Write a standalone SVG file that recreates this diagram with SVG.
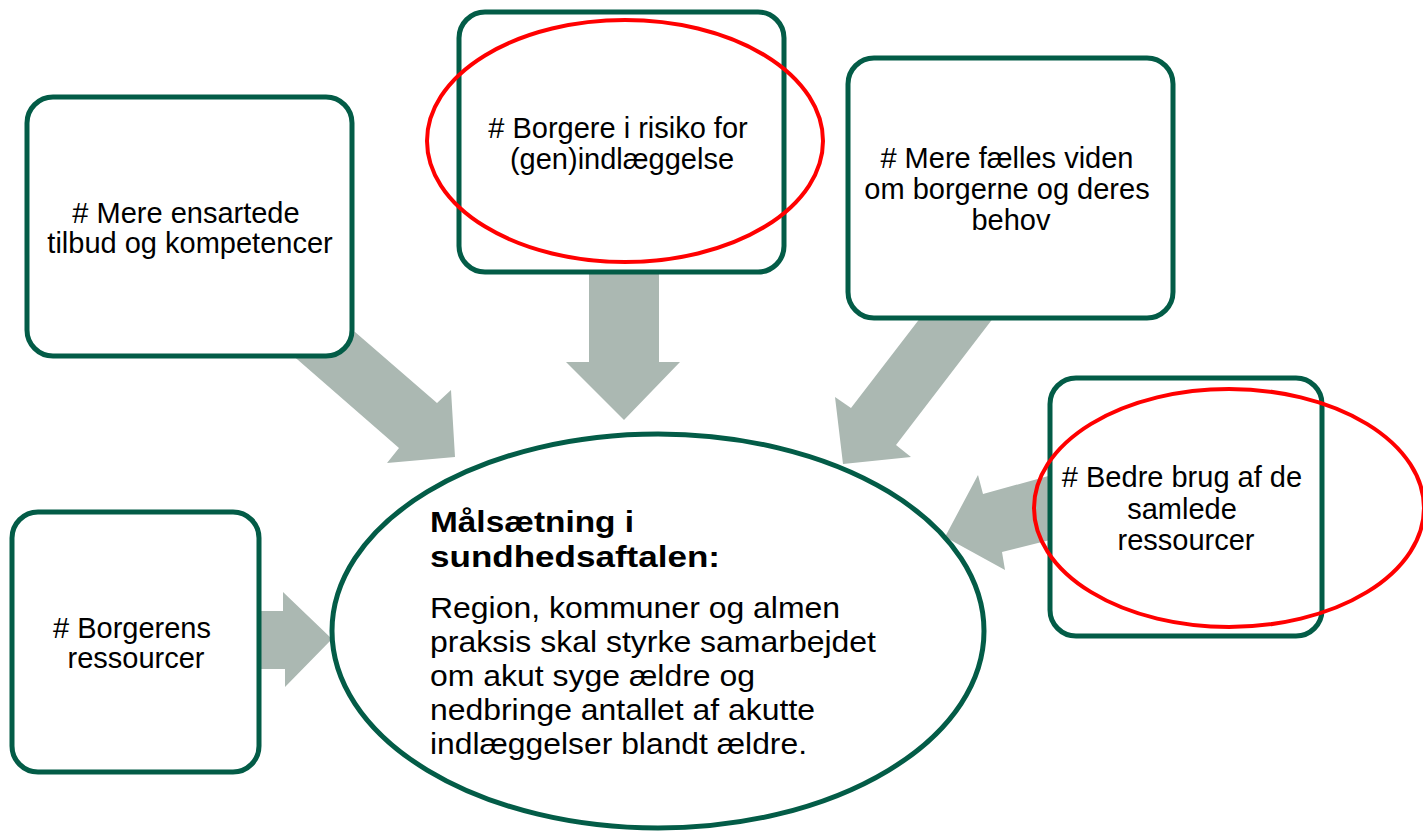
<svg xmlns="http://www.w3.org/2000/svg" width="1423" height="832" viewBox="0 0 1423 832">
<style>
.arrow{fill:#abb8b2;stroke:none}
.box{fill:#fff;stroke:#035c47;stroke-width:5}
.main{fill:#fff;stroke:#035c47;stroke-width:5}
.hl{fill:none;stroke:#ff0000;stroke-width:4}
.t{font-family:"Liberation Sans",Arial,sans-serif;font-size:29px;fill:#000;text-anchor:middle}
.m{font-family:"Liberation Sans",Arial,sans-serif;font-size:29px;fill:#000}
.mb{font-weight:bold}
</style>
<rect width="1423" height="832" fill="#fff"/>
<g id="connectors">
<polygon class="arrow" points="290,353 340,319 437,403 451,390 455,457 387,463 399,448"/>
<polygon class="arrow" points="589,260 659,260 659,362 680,362 624,420 566,362 589,362"/>
<polygon class="arrow" points="934,300 1007,300 896,445 911,457 843,464 835,397 851,408"/>
<polygon class="arrow" points="1070,470 1070,535 1002,552 1005,570 945,537 978,475 983,494"/>
<polygon class="arrow" points="240,611 283,611 283,592 332,639 285,687 285,669 240,669"/>
</g>
<g id="node-ensartede">
<rect class="box" x="27" y="97" width="325" height="259" rx="26"/>
<text class="t" x="190" y="223">
<tspan x="190" y="223"># Mere ensartede</tspan>
<tspan x="190" y="253">tilbud og kompetencer</tspan>
</text>
</g>
<g id="node-risiko">
<rect class="box" x="459" y="12" width="325" height="260" rx="26"/>
<text class="t" x="622" y="138">
<tspan x="622" y="138"># Borgere i risiko for</tspan>
<tspan x="622" y="169">(gen)indlæggelse</tspan>
</text>
</g>
<g id="node-viden">
<rect class="box" x="848" y="58" width="325" height="260" rx="26"/>
<text class="t" x="1011" y="168">
<tspan x="1011" y="168"># Mere fælles viden</tspan>
<tspan x="1011" y="199">om borgerne og deres</tspan>
<tspan x="1011" y="230">behov</tspan>
</text>
</g>
<g id="node-ressourcer-samlede">
<rect class="box" x="1050" y="378" width="272" height="258" rx="26"/>
<text class="t" x="1186" y="487">
<tspan x="1186" y="487"># Bedre brug af de</tspan>
<tspan x="1186" y="519">samlede</tspan>
<tspan x="1186" y="550">ressourcer</tspan>
</text>
</g>
<g id="node-borgerens">
<rect class="box" x="12" y="512" width="247" height="260" rx="26"/>
<text class="t" x="136" y="638">
<tspan x="136" y="638"># Borgerens</tspan>
<tspan x="136" y="668">ressourcer</tspan>
</text>
</g>
<g id="node-maal">
<ellipse class="main" cx="658" cy="631" rx="326" ry="197"/>
<text class="m mb" x="430" y="532" textLength="204" lengthAdjust="spacingAndGlyphs">Målsætning i</text>
<text class="m mb" x="430" y="567" textLength="290" lengthAdjust="spacingAndGlyphs">sundhedsaftalen:</text>
<text class="m" x="430" y="618" textLength="410" lengthAdjust="spacingAndGlyphs">Region, kommuner og almen</text>
<text class="m" x="430" y="652" textLength="446" lengthAdjust="spacingAndGlyphs">praksis skal styrke samarbejdet</text>
<text class="m" x="430" y="686" textLength="325" lengthAdjust="spacingAndGlyphs">om akut syge ældre og</text>
<text class="m" x="430" y="720" textLength="385" lengthAdjust="spacingAndGlyphs">nedbringe antallet af akutte</text>
<text class="m" x="430" y="754" textLength="377" lengthAdjust="spacingAndGlyphs">indlæggelser blandt ældre.</text>
</g>
<g id="highlights">
<ellipse class="hl" cx="625" cy="141" rx="198" ry="121"/>
<ellipse class="hl" cx="1229" cy="508" rx="195" ry="119"/>
</g>
</svg>
